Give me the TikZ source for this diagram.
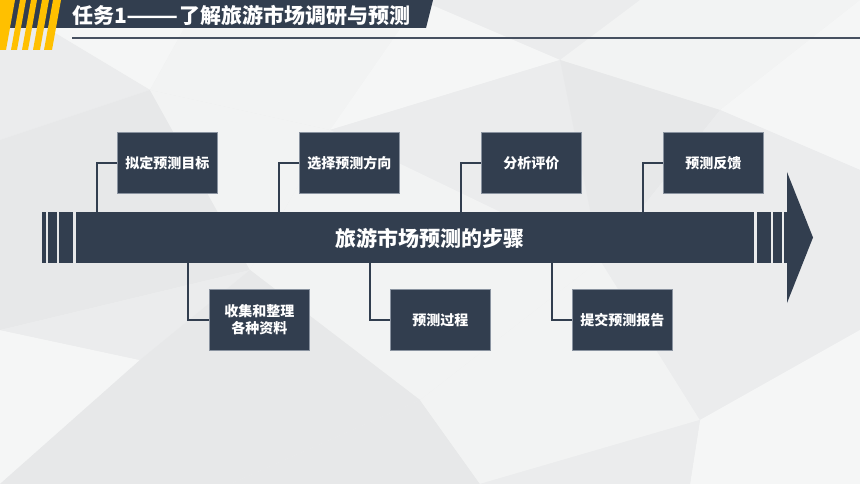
\documentclass[tikz,border=0pt]{standalone}
\usepackage{fontspec}
\newfontfamily\cjk{Noto Sans CJK SC}
\definecolor{navy}{HTML}{323E4F}
\definecolor{gold}{HTML}{FFC000}
\definecolor{bgbase}{HTML}{EEEFEF}
\definecolor{bgA}{HTML}{F5F6F6}
\definecolor{bgB}{HTML}{E7E8E9}
\definecolor{bgC}{HTML}{F2F3F3}
\definecolor{bgD}{HTML}{EBECED}
\definecolor{edgegrey}{HTML}{8A93A0}
\tikzset{
  stepbox/.style={draw=edgegrey, line width=0.7pt, fill=navy, minimum width=100pt, minimum height=61pt, inner sep=0pt,
     text=white, font=\cjk\bfseries\fontsize{14}{17}\selectfont, align=center},
  link/.style={draw=navy, line width=2pt},
  bar/.style={fill=navy, draw=none},
}
\begin{document}
\begin{tikzpicture}[x=1pt,y=-1pt]
\useasboundingbox (0,0) rectangle (860,484);
% background low-poly
\fill[bgbase] (0,0) rectangle (860,484);
\fill[bgA] (0,0) -- (200,0) -- (150,90) -- cycle;
\fill[bgD] (0,0) -- (150,90) -- (0,140) -- cycle;
\fill[bgC] (200,0) -- (420,0) -- (330,130) -- (150,90) -- cycle;
\fill[bgD] (420,0) -- (640,0) -- (560,60) -- cycle;
\fill[bgA] (420,0) -- (560,60) -- (330,130) -- cycle;
\fill[bgC] (640,0) -- (860,0) -- (720,110) -- (560,60) -- cycle;
\fill[bgA] (860,0) -- (860,170) -- (720,110) -- cycle;
\fill[bgB] (0,140) -- (150,90) -- (250,270) -- (0,330) -- cycle;
\fill[bgC] (150,90) -- (330,130) -- (250,270) -- cycle;
\fill[bgD] (330,130) -- (560,60) -- (600,260) -- cycle;
\fill[bgC] (330,130) -- (600,260) -- (420,400) -- (250,270) -- cycle;
\fill[bgB] (560,60) -- (720,110) -- (600,260) -- cycle;
\fill[bgD] (720,110) -- (860,170) -- (860,330) -- (600,260) -- cycle;
\fill[bgA] (0,330) -- (140,360) -- (0,484) -- cycle;
\fill[bgD] (0,330) -- (250,270) -- (140,360) -- cycle;
\fill[bgB] (140,360) -- (250,270) -- (420,400) -- (230,484) -- (0,484) -- cycle;
\fill[bgB] (420,400) -- (230,484) -- (480,484) -- cycle;
\fill[bgC] (600,260) -- (700,420) -- (480,484) -- (420,400) -- cycle;
\fill[bgD] (600,260) -- (860,330) -- (700,420) -- cycle;
\fill[bgA] (700,420) -- (860,330) -- (860,484) -- (690,484) -- cycle;
\fill[bgD] (700,420) -- (690,484) -- (480,484) -- cycle;
% header
\fill[navy] (0,0) -- (433,0) -- (426,28) -- (0,28) -- cycle;
\foreach \a/\b in {-12/15, 20/26, 31/37, 42/49, 53/61}
  \fill[gold] (\a,0) -- (\b,0) -- (\b-9,50) -- (\a-9,50) -- cycle;
\node[anchor=west, text=white, font=\cjk\bfseries\fontsize{21}{24}\selectfont, inner sep=0pt] (title) at (72,15) {任务1\scalebox{1.45}[1]{——}了解旅游市场调研与预测};
\coordinate (hl1) at (72,38);
\coordinate (hl2) at (860,38);
\draw[draw=navy!90!white, line width=1.6pt] (hl1) -- (hl2);
% arrow
\fill[bar] (42,212) rectangle (46,263);
\fill[bar] (48,212) rectangle (57,263);
\fill[bar] (59,212) rectangle (73,263);
\node[bar, minimum width=678pt, minimum height=51pt, inner sep=0pt, anchor=north west] (body) at (76,212) {};
\fill[bar] (757,212) rectangle (771,263);
\fill[bar] (773,212) rectangle (782,263);
\fill[bar] (784,212) rectangle (787,263);
\fill[bar] (787,172) -- (813,237.5) -- (787,303) -- cycle;
\node[text=white, font=\cjk\bfseries\fontsize{21}{24}\selectfont] (bodytext) at (430,238) {旅游市场预测的步骤};
% top boxes
\node[stepbox, anchor=north west] (t1) at (117,132) {拟定预测目标};
\node[stepbox, anchor=north west] (t2) at (299,132) {选择预测方向};
\node[stepbox, anchor=north west] (t3) at (481,132) {分析评价};
\node[stepbox, anchor=north west] (t4) at (663,132) {预测反馈};
% bottom boxes
\node[stepbox, anchor=north west] (b1) at (209,289) {收集和整理\\各种资料};
\node[stepbox, anchor=north west] (b2) at (390,289) {预测过程};
\node[stepbox, anchor=north west] (b3) at (572,289) {提交预测报告};
% connectors
\coordinate (u1) at (97,212);
\coordinate (u2) at (279,212);
\coordinate (u3) at (461,212);
\coordinate (u4) at (643,212);
\coordinate (d1) at (188,263);
\coordinate (d2) at (370,263);
\coordinate (d3) at (552,263);
\draw[link] (t1.west) -| (u1);
\draw[link] (t2.west) -| (u2);
\draw[link] (t3.west) -| (u3);
\draw[link] (t4.west) -| (u4);
\draw[link] (d1) |- (b1.west);
\draw[link] (d2) |- (b2.west);
\draw[link] (d3) |- (b3.west);
\end{tikzpicture}
\end{document}
